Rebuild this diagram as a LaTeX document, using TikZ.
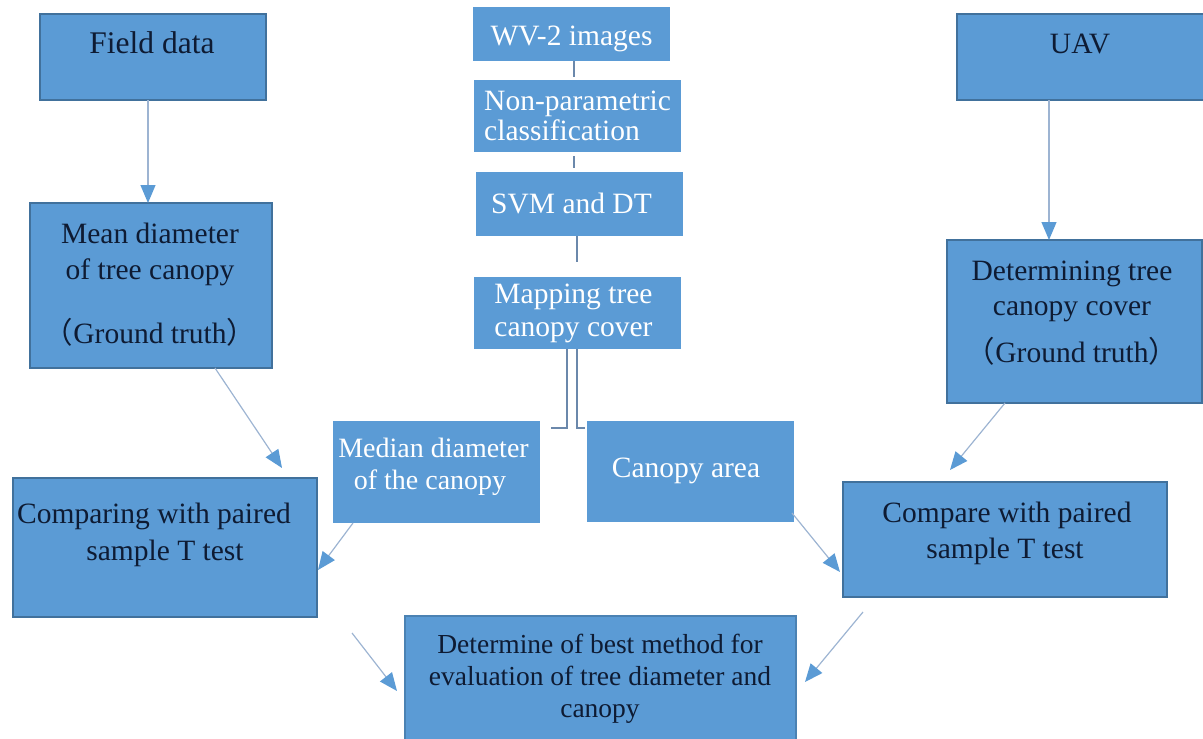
\documentclass[tikz,border=0pt]{standalone}
\usepackage{fontspec}
\setmainfont{Liberation Serif}
\newfontfamily\cjk{Noto Sans CJK SC}
\usetikzlibrary{arrows.meta}
\definecolor{boxblue}{HTML}{5B9BD5}
\definecolor{boxedge}{HTML}{41719C}
\definecolor{ink}{HTML}{0E1B33}
\definecolor{arrline}{HTML}{9DB4D2}
\definecolor{conn}{HTML}{6B88AB}
\newcommand{\lp}{{\cjk（}}
\newcommand{\rp}{{\cjk）}}
\begin{document}
\begin{tikzpicture}[x=1pt,y=-1pt,
  box/.style={fill=boxblue, draw=boxedge, line width=1.2pt, anchor=north west, inner sep=0pt, outer sep=0pt},
  cbox/.style={box, draw=none},
  txt/.style={anchor=base, inner sep=0pt, text=ink, font=\fontsize{29.5}{34}\selectfont},
  wtxt/.style={txt, text=white},
  arr/.style={draw=arrline, line width=1.2pt, -{Triangle[length=18pt,width=15pt,color=boxblue]}},
  link/.style={draw=conn, line width=1.8pt}]
\useasboundingbox (0,0) rectangle (1203,739);

% boxes
\node[box, minimum width=226pt, minimum height=86pt] (fd) at (40,14) {};
\node[box, minimum width=242pt, minimum height=165pt] (md) at (30,203) {};
\node[cbox, minimum width=197pt, minimum height=54pt] (wv) at (473,7) {};
\node[cbox, minimum width=207pt, minimum height=72pt] (np) at (474,80) {};
\node[cbox, minimum width=207pt, minimum height=64pt] (svm) at (476,172) {};
\node[cbox, minimum width=207pt, minimum height=72pt] (map) at (474,277) {};
\node[cbox, minimum width=207pt, minimum height=102pt] (med) at (333,421) {};
\node[cbox, minimum width=207pt, minimum height=101pt] (ca) at (587,421) {};
\node[box, minimum width=304pt, minimum height=139pt] (cmpL) at (13,478) {};
\node[box, minimum width=250pt, minimum height=86pt] (uav) at (957,14) {};
\node[box, minimum width=255pt, minimum height=163pt] (det) at (947,240) {};
\node[box, minimum width=324pt, minimum height=115pt] (cmpR) at (843,482) {};
\node[box, draw=boxedge!60!boxblue, minimum width=391pt, minimum height=130pt] (best) at (405,616) {};

% texts
\node[txt, font=\fontsize{31.5}{36}\selectfont] (t1) at (152,53) {Field data};
\node[txt] (t2) at (150,243) {Mean diameter};
\node[txt] (t3) at (150,279) {of tree canopy};
\node[txt] (t4) at (150,343) {\lp Ground truth\rp};
\node[wtxt] (t5) at (571.5,45) {WV-2 images};
\node[wtxt, anchor=base west] (t6) at (484,110) {Non-parametric};
\node[wtxt, anchor=base west] (t7) at (484,140) {classification};
\node[wtxt] (t8) at (571.5,213) {SVM and DT};
\node[wtxt] (t9) at (573.5,303) {Mapping tree};
\node[wtxt] (t10) at (573.5,336) {canopy cover};
\node[wtxt, font=\fontsize{28}{33}\selectfont] (t11) at (433.5,457) {Median diameter};
\node[wtxt, font=\fontsize{28}{33}\selectfont] (t12) at (430,489) {of the canopy};
\node[wtxt] (t13) at (686,477) {Canopy area};
\node[txt] (t14) at (1080,53) {UAV};
\node[txt] (t15) at (1072,280) {Determining tree};
\node[txt] (t16) at (1072,315) {canopy cover};
\node[txt] (t17) at (1072,362) {\lp Ground truth\rp};
\node[txt] (t18) at (154,523) {Comparing with paired};
\node[txt] (t19) at (165,560) {sample T test};
\node[txt] (t20) at (1007,522) {Compare with paired};
\node[txt] (t21) at (1005,558) {sample T test};
\node[txt, font=\fontsize{27.5}{32}\selectfont] (t22) at (600,653) {Determine of best method for};
\node[txt, font=\fontsize{27.5}{32}\selectfont] (t23) at (600,685) {evaluation of tree diameter and};
\node[txt, font=\fontsize{27.5}{32}\selectfont] (t24) at (600,717) {canopy};

% central connectors
\draw[link] ([xshift=2.5pt]wv.south) -- ([xshift=-3.5pt,yshift=3pt]np.north);
\draw[link, line width=1.2pt] ([xshift=-3.5pt,yshift=-4pt]np.south) -- ([xshift=-5.5pt,yshift=4pt]svm.north);
\draw[link] ([xshift=-2.5pt]svm.south) -- ([xshift=-0.5pt,yshift=15pt]map.north);
\draw[link] ([xshift=-10.5pt]map.south) |- ([xshift=11pt,yshift=-7pt]med.north east);
\draw[link] ([xshift=-0.5pt]map.south) |- ([xshift=-2pt,yshift=-7pt]ca.north west);

% free ends
\coordinate (a1) at (282,468);
\coordinate (a2) at (950,470);
\coordinate (b1s) at (352,633);
\coordinate (b1e) at (397,691);
\coordinate (b2s) at (863,612);
\coordinate (b2e) at (805,682);

% arrows
\draw[arr] ([xshift=-5pt]fd.south) -- ([xshift=-3pt]md.north);
\draw[arr] ([xshift=-33pt]uav.south) -- ([xshift=-25.5pt]det.north);
\draw[arr] ([xshift=185pt]md.south west) -- (a1);
\draw[arr] ([xshift=20pt]med.south west) -- ([xshift=1pt,yshift=-92pt]cmpL.north east);
\draw[arr] ([xshift=-2pt,yshift=9pt]ca.south east) -- ([xshift=-3pt,yshift=-90pt]cmpR.north west);
\draw[arr] ([xshift=58pt]det.south west) -- (a2);
\draw[arr] (b1s) -- (b1e);
\draw[arr] (b2s) -- (b2e);
\end{tikzpicture}
\end{document}
